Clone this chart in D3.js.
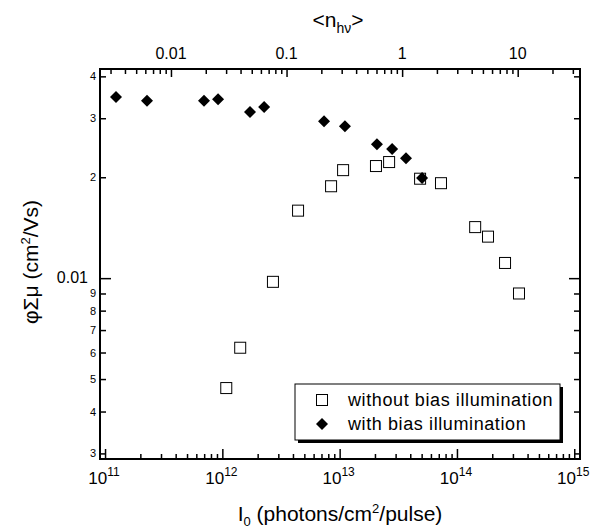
<!doctype html>
<html lang="en">
<head>
  <meta charset="utf-8">
  <title>phi Sigma mu vs I0</title>
  <style>
  body { margin: 0; background: #fff; }
  svg { font-family: "Liberation Sans", Arial, sans-serif; }
  .tick line { stroke: #000; stroke-width: 1.5; }
  .domain { display: none; }
  </style>
</head>
<body>
  <div id="chart"></div>
  <script src="https://cdn.jsdelivr.net/npm/d3@7"></script>
  <script>
    // values
    var openI0 = [1.08e12, 1.42e12, 2.70e12, 4.42e12, 8.45e12, 1.07e13, 2.04e13, 2.64e13, 4.85e13, 7.31e13, 1.43e14, 1.84e14, 2.57e14, 3.38e14];
    var openMu = [0.0047, 0.0062, 0.00975, 0.0159, 0.0188, 0.0210, 0.0216, 0.0222, 0.0198, 0.0192, 0.0142, 0.0133, 0.0111, 0.0090];
    var biasI0 = [1.24e11, 2.28e11, 6.98e11, 9.19e11, 1.72e12, 2.27e12, 7.36e12, 1.11e13, 2.08e13, 2.80e13, 3.68e13, 5.04e13];
    var biasMu = [0.0347, 0.0338, 0.0338, 0.0342, 0.0313, 0.0324, 0.0294, 0.0284, 0.0251, 0.0243, 0.0228, 0.0199];

    var xMajor = [1e11, 1e12, 1e13, 1e14, 1e15];
    var xLabels = ["11", "12", "13", "14", "15"];
    var yMajor = [0.01];
    var yMinor = [0.003, 0.004, 0.005, 0.006, 0.007, 0.008, 0.009, 0.02, 0.03, 0.04];
    var yMinorLabels = ["3", "4", "5", "6", "7", "8", "9", "2", "3", "4"];
    var topMajor = [0.01, 0.1, 1, 10];
    var topLabels = ["0.01", "0.1", "1", "10"];
    var legendLabels = ["without bias illumination", "with bias illumination"];

    (function() {
      var width = 591, height = 531;
      var pl = 100, pr = 580, pt = 69, pb = 459;

      var x = d3.scaleLog().domain([Math.pow(10, 10.957), Math.pow(10, 15.049)]).range([pl, pr]);
      var xTop = d3.scaleLog().domain([Math.pow(10, -2.614), Math.pow(10, 1.539)]).range([pl, pr]);
      var y = d3.scaleLog().domain([0.002887, 0.04207]).range([pb, pt]);

      var minorsOf = function(scale, from, to) {
        var out = [];
        var d = scale.domain();
        for (var e = from; e < to; e++) {
          for (var k = 2; k <= 9; k++) {
            var v = k * Math.pow(10, e);
            if (v > d[0] && v < d[1]) out.push(v);
          }
        }
        return out;
      };
      var xMinor = minorsOf(x, 11, 15);
      var topMinor = minorsOf(xTop, -3, 2);

      var svg = d3.select("#chart").append("svg")
          .attr("width", width)
          .attr("height", height);

      var blank = function() { return ""; };

      // bottom axis
      svg.append("g").attr("transform", "translate(0," + pb + ")")
        .call(d3.axisBottom(x).tickValues(xMajor).tickSize(-10).tickFormat(blank));
      svg.append("g").attr("transform", "translate(0," + pb + ")")
        .call(d3.axisBottom(x).tickValues(xMinor).tickSize(-5).tickFormat(blank));
      // top axis
      svg.append("g").attr("transform", "translate(0," + pt + ")")
        .call(d3.axisTop(xTop).tickValues(topMajor).tickSize(-8).tickFormat(blank));
      svg.append("g").attr("transform", "translate(0," + pt + ")")
        .call(d3.axisTop(xTop).tickValues(topMinor).tickSize(-5).tickFormat(blank));
      // left / right axes
      svg.append("g").attr("transform", "translate(" + pl + ",0)")
        .call(d3.axisLeft(y).tickValues(yMajor).tickSize(-11).tickFormat(blank));
      svg.append("g").attr("transform", "translate(" + pl + ",0)")
        .call(d3.axisLeft(y).tickValues(yMinor).tickSize(-6).tickFormat(blank));
      svg.append("g").attr("transform", "translate(" + pr + ",0)")
        .call(d3.axisRight(y).tickValues(yMajor).tickSize(-11).tickFormat(blank));
      svg.append("g").attr("transform", "translate(" + pr + ",0)")
        .call(d3.axisRight(y).tickValues(yMinor).tickSize(-6).tickFormat(blank));

      svg.append("rect")
        .attr("x", pl).attr("y", pt)
        .attr("width", pr - pl).attr("height", pb - pt)
        .attr("fill", "none").attr("stroke", "#000").attr("stroke-width", 2);

      // tick labels
      var xl = svg.append("g").selectAll("text").data(xMajor).enter()
        .append("text")
        .attr("x", function(d) { return x(d) - 1; })
        .attr("y", 484)
        .attr("text-anchor", "middle")
        .attr("font-size", 17);
      xl.append("tspan").text("10");
      xl.append("tspan").attr("dy", -8).attr("font-size", 12).text(function(d, i) { return xLabels[i]; });

      svg.append("g").selectAll("text").data(topMajor).enter()
        .append("text")
        .attr("x", function(d) { return xTop(d); })
        .attr("y", 59)
        .attr("text-anchor", "middle")
        .attr("font-size", 16)
        .text(function(d, i) { return topLabels[i]; });

      svg.append("g").selectAll("text").data(yMajor).enter()
        .append("text")
        .attr("x", 88)
        .attr("y", function(d) { return y(d) + 5; })
        .attr("text-anchor", "end")
        .attr("font-size", 16)
        .text("0.01");

      svg.append("g").selectAll("text").data(yMinor).enter()
        .append("text")
        .attr("x", 96)
        .attr("y", function(d) { return y(d) + 4; })
        .attr("text-anchor", "end")
        .attr("font-size", 11)
        .text(function(d, i) { return yMinorLabels[i]; });

      // axis titles
      var xt = svg.append("text")
        .attr("x", 340).attr("y", 521)
        .attr("text-anchor", "middle")
        .attr("font-size", 21);
      xt.append("tspan").text("I");
      xt.append("tspan").attr("dy", 5).attr("font-size", 13).text("0");
      xt.append("tspan").attr("dy", -5).text(" (photons/cm");
      xt.append("tspan").attr("dy", -8).attr("font-size", 13).text("2");
      xt.append("tspan").attr("dy", 8).text("/pulse)");

      var yt = svg.append("text")
        .attr("transform", "translate(38,262) rotate(-90)")
        .attr("text-anchor", "middle")
        .attr("font-size", 21);
      yt.append("tspan").text("\u03c6\u03a3\u03bc (cm");
      yt.append("tspan").attr("dy", -8).attr("font-size", 13).text("2");
      yt.append("tspan").attr("dy", 8).text("/Vs)");

      var tt = svg.append("text")
        .attr("x", 338).attr("y", 27)
        .attr("text-anchor", "middle")
        .attr("font-size", 21);
      tt.append("tspan").text("<n");
      tt.append("tspan").attr("dy", 6).attr("font-size", 14).text("h\u03bd");
      tt.append("tspan").attr("dy", -6).text(">");

      // data
      var sq = 11, dm = 6;
      svg.append("g").selectAll("rect").data(openI0).enter()
        .append("rect")
        .attr("x", function(d) { return x(d) - sq / 2; })
        .attr("y", function(d, i) { return y(openMu[i]) - sq / 2; })
        .attr("width", sq).attr("height", sq)
        .attr("fill", "#fff").attr("stroke", "#000").attr("stroke-width", 1);

      var diamond = function(cx, cy) {
        return "M" + cx + "," + (cy - dm) + "L" + (cx + dm) + "," + cy + "L" + cx + "," + (cy + dm) + "L" + (cx - dm) + "," + cy + "Z";
      };
      svg.append("g").selectAll("path").data(biasI0).enter()
        .append("path")
        .attr("d", function(d, i) { return diamond(x(d), y(biasMu[i])); })
        .attr("fill", "#000");

      // legend
      var lg = svg.append("g");
      lg.append("rect").attr("x", 298).attr("y", 387).attr("width", 265).attr("height", 56).attr("fill", "#000");
      lg.append("rect").attr("x", 295).attr("y", 384).attr("width", 265).attr("height", 56)
        .attr("fill", "#fff").attr("stroke", "#000").attr("stroke-width", 1);
      lg.append("rect").attr("x", 322 - sq / 2).attr("y", 400 - sq / 2).attr("width", sq).attr("height", sq)
        .attr("fill", "#fff").attr("stroke", "#000");
      lg.append("path").attr("d", diamond(322, 424)).attr("fill", "#000");
      lg.selectAll("text.lbl").data(legendLabels).enter()
        .append("text")
        .attr("x", 348)
        .attr("y", function(d, i) { return 406 + i * 24; })
        .attr("font-size", 18)
        .attr("letter-spacing", 0.6)
        .text(function(d) { return d; });
    })();
  </script>
</body>
</html>
